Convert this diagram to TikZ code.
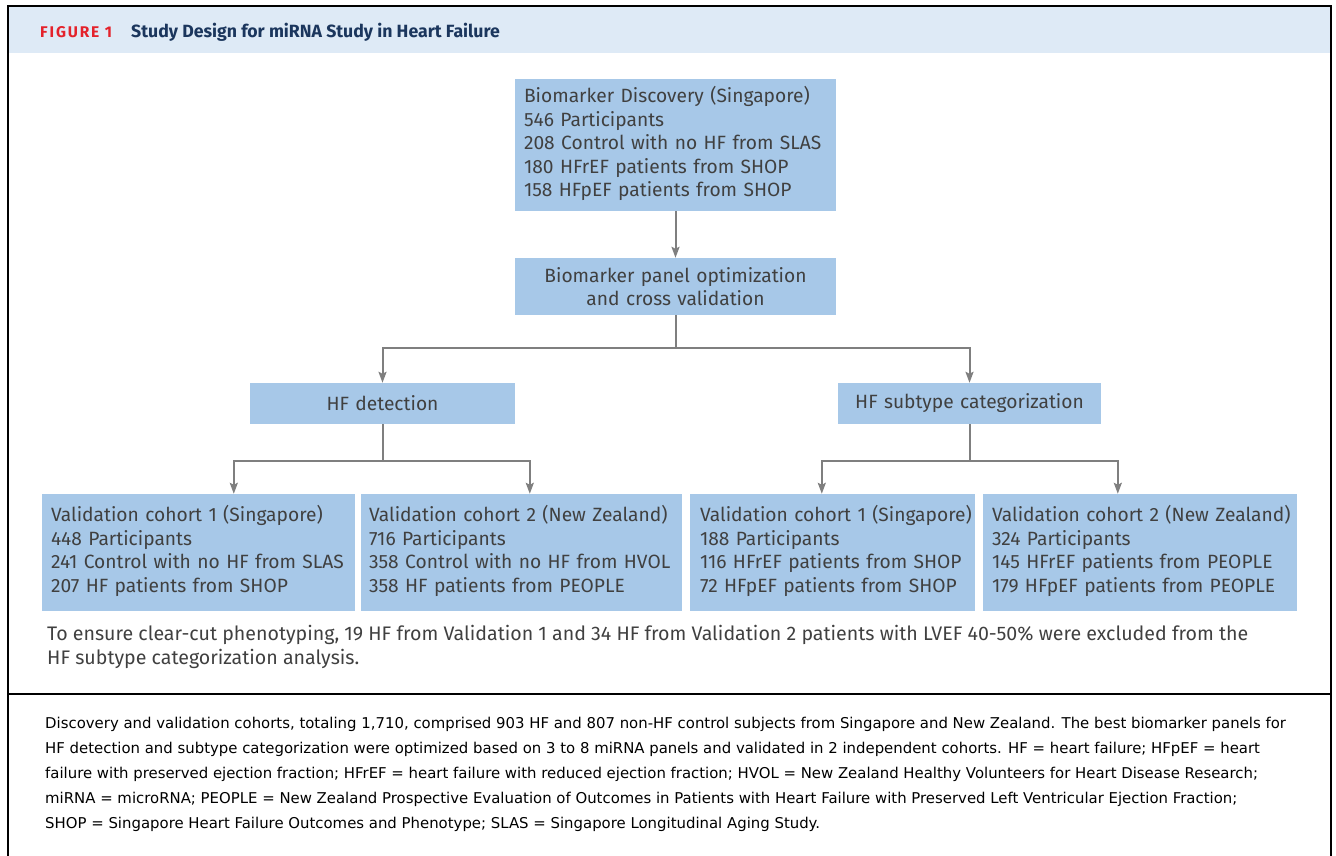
\documentclass[tikz,border=0pt]{standalone}
\usepackage{fontspec}
\setmainfont{DejaVu Sans}
\newfontfamily\boxfont{Fira Sans}
\usetikzlibrary{arrows.meta}
\definecolor{boxblue}{HTML}{A7C8E8}
\definecolor{headblue}{HTML}{DEEAF6}
\definecolor{textgray}{HTML}{404040}
\definecolor{linegray}{HTML}{7F7F7F}
\definecolor{titleblue}{HTML}{1B365D}
\definecolor{figred}{HTML}{E4222B}
\newcommand{\boxlines}[1]{\begin{tabular}{@{}l@{}}#1\end{tabular}}

\tikzset{
	box/.style={fill=boxblue,text=textgray,font=\boxfont\fontsize{19.2}{23.5}\selectfont,inner xsep=9pt,inner ysep=0pt},
	conn/.style={draw=linegray,line width=2pt,->,>={Stealth[length=11pt,width=8pt,inset=2pt]}},
}

\begin{document}
\begin{tikzpicture}[x=1pt,y=-1pt]
	\useasboundingbox (0,0) rectangle (1336,855);
	%frame and header
	\fill[headblue] (8,7) rectangle (1331,53);
	\draw[line width=2pt] (8,856) -- (8,6) -- (1331,6) -- (1331,856);
	\draw[line width=1.5pt] (8,694) -- (1331,694);
	\node[anchor=base west,inner sep=0pt] (fig) at (40,37) {\boxfont\bfseries\fontsize{15.5}{17}\selectfont\color{figred}\addfontfeature{LetterSpace=12}FIGURE 1};
	\node[anchor=base west,inner sep=0pt] (title) at (131,37) {\boxfont\bfseries\fontsize{17.7}{20}\selectfont\color{titleblue}Study Design for miRNA Study in Heart Failure};

	%boxes
	\node[box,text width=303pt,minimum height=132pt,align=left] (disc) at (675.5,145)
		{\boxlines{Biomarker Discovery (Singapore)\\546 Participants\\208 Control with no HF from SLAS\\180 HFrEF patients from SHOP\\158 HFpEF patients from SHOP}};
	\node[box,text width=303pt,minimum height=57pt,align=center] (opt) at (675.5,286.5)
		{Biomarker panel optimization\\and cross validation};
	\node[box,text width=247pt,minimum height=41pt,align=center] (det) at (382.5,403.5) {HF detection};
	\node[box,text width=245pt,minimum height=41pt,align=center] (sub) at (969.5,403.5) {HF subtype categorization};

	\node[box,inner xsep=9pt,text width=295pt,minimum height=117pt,align=left] (vA) at (198.5,552.5)
		{\boxlines{Validation cohort 1 (Singapore)\\448 Participants\\241 Control with no HF from SLAS\\207 HF patients from SHOP}};
	\node[box,inner xsep=8pt,text width=305pt,minimum height=117pt,align=left] (vB) at (521.5,552.5)
		{\boxlines{Validation cohort 2 (New Zealand)\\716 Participants\\358 Control with no HF from HVOL\\358 HF patients from PEOPLE}};
	\node[box,inner xsep=10pt,text width=265pt,minimum height=117pt,align=left] (vC) at (832.5,552.5)
		{\boxlines{Validation cohort 1 (Singapore)\\188 Participants\\116 HFrEF patients from SHOP\\72 HFpEF patients from SHOP}};
	\node[box,inner xsep=9pt,text width=296pt,minimum height=117pt,align=left] (vD) at (1140,552.5)
		{\boxlines{Validation cohort 2 (New Zealand)\\324 Participants\\145 HFrEF patients from PEOPLE\\179 HFpEF patients from PEOPLE}};

	%notes
	\node[anchor=north west,align=left,inner sep=0pt,text=textgray,font=\boxfont\fontsize{19.6}{24}\selectfont] (note) at (47,625)
		{To ensure clear-cut phenotyping, 19 HF from Validation 1 and 34 HF from Validation 2 patients with LVEF 40-50\% were excluded from the\\HF subtype categorization analysis.};
	\node[anchor=north west,align=left,inner sep=0pt,font=\fontsize{14.9}{25}\selectfont] (caption) at (45,717)
		{Discovery and validation cohorts, totaling 1,710, comprised 903 HF and 807 non-HF control subjects from Singapore and New Zealand. The best biomarker panels for\\
		HF detection and subtype categorization were optimized based on 3 to 8 miRNA panels and validated in 2 independent cohorts. HF = heart failure; HFpEF = heart\\
		failure with preserved ejection fraction; HFrEF = heart failure with reduced ejection fraction; HVOL = New Zealand Healthy Volunteers for Heart Disease Research;\\
		miRNA = microRNA; PEOPLE = New Zealand Prospective Evaluation of Outcomes in Patients with Heart Failure with Preserved Left Ventricular Ejection Fraction;\\
		SHOP = Singapore Heart Failure Outcomes and Phenotype; SLAS = Singapore Longitudinal Aging Study.};

	%arrows
	\draw[conn] (disc) -- (opt);											%discovery--optimization
	\draw[conn] (opt.south) -- ++(0,33) -| (det);							%optimization--detection
	\draw[conn] (opt.south) -- ++(0,33) -| (sub);							%optimization--subtype
	\draw[conn] (det.south) -- ++(0,37) -| ([xshift=192pt]vA.north west);	%detection--cohort 1
	\draw[conn] (det.south) -- ++(0,37) -| ([xshift=169pt]vB.north west);	%detection--cohort 2
	\draw[conn] (sub.south) -- ++(0,37) -| ([xshift=132pt]vC.north west);	%subtype--cohort 1
	\draw[conn] (sub.south) -- ++(0,37) -| ([xshift=135pt]vD.north west);	%subtype--cohort 2
\end{tikzpicture}
\end{document}
